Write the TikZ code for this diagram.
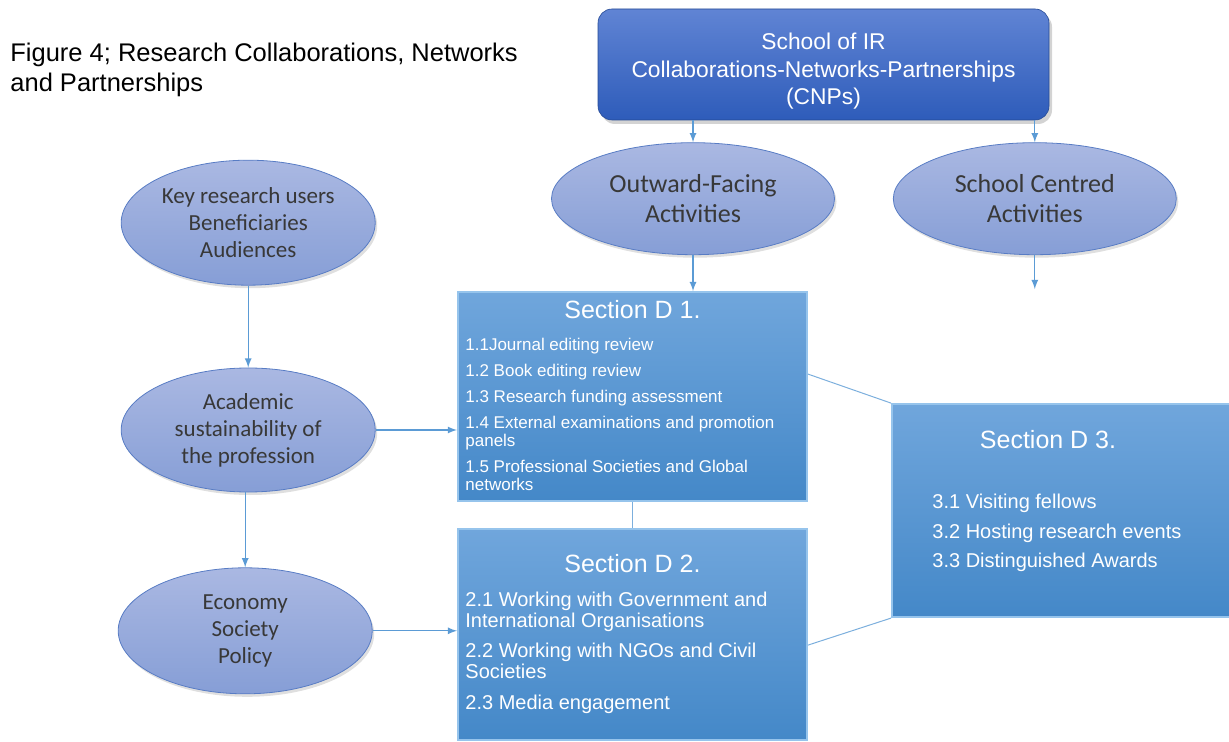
\documentclass[tikz,border=0pt]{standalone}
\usepackage{fontspec}
\setmainfont{Liberation Sans}
\newfontfamily\calibri{Carlito}
\usepackage{tikz}
\usetikzlibrary{shapes.geometric, arrows, positioning, shadows}
\definecolor{headtop}{RGB}{96,132,212}
\definecolor{headbot}{RGB}{46,92,186}
\definecolor{ovaltop}{RGB}{170,184,226}
\definecolor{ovalbot}{RGB}{134,158,214}
\definecolor{ovalline}{RGB}{88,124,196}
\definecolor{sectop}{RGB}{112,166,220}
\definecolor{secbot}{RGB}{68,136,200}
\definecolor{secedge}{RGB}{150,196,236}
\definecolor{linkblue}{RGB}{91,155,213}
\definecolor{inktext}{RGB}{56,56,56}
\tikzset{
    headbox/.style={rectangle, rounded corners=7pt, minimum width=225.5pt, minimum height=55.5pt, top color=headtop, bottom color=headbot, draw=headbot!80!black, line width=0.3pt, drop shadow={opacity=0.35, shadow xshift=1.5pt, shadow yshift=-2pt}},
    headtext/.style={inner sep=0pt, align=center, text=white, font=\fontsize{11.4}{13.75}\selectfont},
    oval/.style={ellipse, minimum width=127pt, minimum height=62pt, inner sep=0pt, align=center, top color=ovaltop, bottom color=ovalbot, draw=ovalline, line width=0.4pt, text=inktext, font=\calibri\fontsize{11.5}{13.5}\selectfont, drop shadow={opacity=0.25, shadow xshift=1pt, shadow yshift=-1.5pt}},
    bigoval/.style={oval, minimum width=141.5pt, minimum height=56pt, font=\calibri\fontsize{13}{15}\selectfont},
    section/.style={rectangle, minimum width=174.5pt, minimum height=104.5pt, top color=sectop, bottom color=secbot, draw=secedge, line width=1pt},
    sectitle/.style={inner sep=0pt, text=white, font=\fontsize{12.5}{15}\selectfont},
    seclist/.style={inner sep=0pt, align=left, text=white},
    arrow/.style={->, >=latex, draw=linkblue, line width=0.6pt},
    link/.style={draw=linkblue!80!white, line width=0.5pt}
}
\begin{document}
\begin{tikzpicture}[node distance=18pt and 29pt]
    \useasboundingbox (0,0) rectangle (614.5pt,-371pt);
    \node (fig) [anchor=north west, inner sep=0pt, align=left, font=\fontsize{12.75}{15}\selectfont] at (5pt,-21.5pt) {Figure 4; Research Collaborations, Networks\\and Partnerships};
    \node (cnp) [headbox] at (411.75pt,-32.25pt) {};
    \node (cnptext) [headtext] at ([yshift=-3.5pt]cnp.center) {School of IR\\Collaborations-Networks-Partnerships\\(CNPs)};

    \node (outward) [bigoval, below=11pt of cnp, xshift=-65.25pt] {Outward-Facing\\Activities};
    \node (centred) [bigoval, right=29pt of outward] {School Centred\\Activities};
    \node (users) [oval, minimum height=62.5pt, left=87.75pt of outward, yshift=-12pt] {Key research users\\Beneficiaries\\Audiences};
    \node (academic) [oval, below=41pt of users] {Academic\\sustainability of\\the profession};
    \node (economy) [oval, minimum height=63pt, below=37.5pt of academic, xshift=-1.5pt] {Economy\\Society\\Policy};

    \node (d1) [section, below=18pt of outward, xshift=-30.25pt] {};
    \node (d2) [section, minimum height=105.5pt, below=13pt of d1] {};
    \node (d3) [section, minimum width=169pt, minimum height=106.5pt, right=41.5pt of d1, yshift=-57pt] {};

    \node (d1title) [sectitle, below=4.3pt of d1.north] {Section D 1.};
    \node (d1list) [seclist, font=\fontsize{8.5}{8.9}\selectfont, below right=23.5pt and 4pt of d1.north west] {1.1Journal editing review\\[4.1pt]1.2 Book editing review\\[4.1pt]1.3 Research funding assessment\\[4.1pt]1.4 External examinations and promotion\\panels\\[4.1pt]1.5 Professional Societies and Global\\networks};
    \node (d2title) [sectitle, below=12.7pt of d2.north] {Section D 2.};
    \node (d2list) [seclist, font=\fontsize{10}{10.25}\selectfont, below right=31.9pt and 4pt of d2.north west] {2.1 Working with Government and\\International Organisations\\[5.1pt]2.2 Working with NGOs and Civil\\Societies\\[5.1pt]2.3 Media engagement};
    \node (d3title) [sectitle, below=13.5pt of d3.north, xshift=-6.5pt] {Section D 3.};
    \node (d3list) [seclist, font=\fontsize{10}{14.7}\selectfont, below right=45.5pt and 20.5pt of d3.north west] {3.1 Visiting fellows\\3.2 Hosting research events\\3.3 Distinguished Awards};

    \coordinate (centredend) at ([yshift=-17pt]centred.south);

    \draw [arrow] (cnp.south -| outward.north) -- (outward.north);
    \draw [arrow] (cnp.south -| centred.north) -- (centred.north);
    \draw [arrow] (outward.south) -- (outward.south |- d1.north);
    \draw [arrow] (centred.south) -- (centredend);
    \draw [arrow] (users.south) -- (academic.north);
    \draw [arrow] (academic.south -| economy.north) -- (economy.north);
    \draw [arrow] (academic.east) -- (academic.east -| d1.west);
    \draw [arrow] (economy.east) -- (economy.east -| d2.west);
    \draw [link] (d1.south) -- (d2.north);
    \draw [link] ([yshift=11.25pt]d1.east) -- (d3.north west);
    \draw [link] ([yshift=-5.25pt]d2.east) -- (d3.south west);
\end{tikzpicture}
\end{document}
